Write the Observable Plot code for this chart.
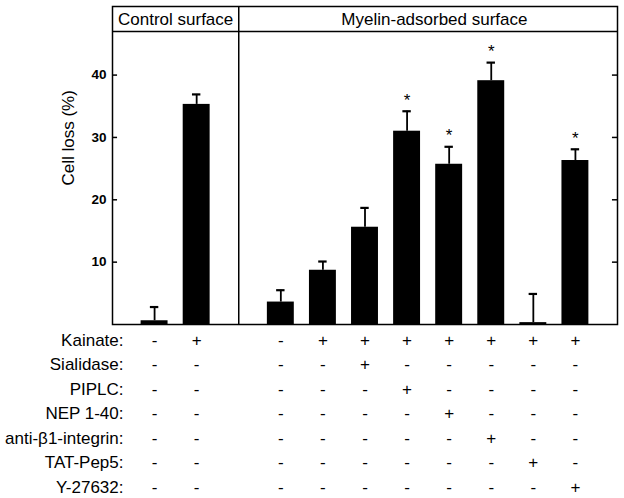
<!DOCTYPE html>
<html><head><meta charset="utf-8">
<script src="https://cdn.jsdelivr.net/npm/d3@7"></script>
<script src="https://cdn.jsdelivr.net/npm/@observablehq/plot@0.6"></script>
<style>body{margin:0;background:#fff;}</style>
</head><body><div id="chart"></div>
<script>
// ---- data ----
const panels = ["Control surface", "Myelin-adsorbed surface"];
const panelCenters = [1.5, 7.65];
const positions = [1, 2, 4, 5, 6, 7, 8, 9, 10, 11];
const values = [0.6, 35.3, 3.6, 8.7, 15.6, 31.0, 25.7, 39.1, 0.3, 26.3];
const errors = [2.2, 1.6, 1.9, 1.4, 3.1, 3.2, 2.8, 2.9, 4.6, 1.8];
const significant = [false, false, false, false, false, true, true, true, false, true];
const treatments = ["Kainate:", "Sialidase:", "PIPLC:", "NEP 1-40:", "anti-\u03b21-integrin:", "TAT-Pep5:", "Y-27632:"];
const signs = [
  ["-","+","-","+","+","+","+","+","+","+"],
  ["-","-","-","-","+","-","-","-","-","-"],
  ["-","-","-","-","-","+","-","-","-","-"],
  ["-","-","-","-","-","-","+","-","-","-"],
  ["-","-","-","-","-","-","-","+","-","-"],
  ["-","-","-","-","-","-","-","-","+","-"],
  ["-","-","-","-","-","-","-","-","-","+"]
];
const yTicks = [10, 20, 30, 40];
const xDomain = [0, 12];
const yDomain = [0, 51];
const headerBoundary = 47;
const panelDivider = 3;

// ---- build ----
const bars = positions.map((p, i) => ({pos: p, value: values[i], err: errors[i], sig: significant[i]}));
const halfBar = 0.32, halfCap = 0.1, tickLen = 0.12;
const font = "Liberation Sans, Arial, Helvetica, sans-serif";

const rowMarks = [];
treatments.forEach((t, r) => {
  const dy = 16 + r * 24.5;
  rowMarks.push(Plot.text([t], {x: xDomain[0], y: 0, text: d => d, textAnchor: "end", dx: 11, dy, lineAnchor: "middle", fontSize: 17, fill: "black"}));
  rowMarks.push(Plot.text(bars, {x: "pos", y: 0, text: (d, i) => signs[r][i], dy, lineAnchor: "middle", fontSize: 17, fill: "black"}));
});

const chart = Plot.plot({
  width: 624,
  height: 498,
  marginLeft: 112,
  marginRight: 7,
  marginTop: 6,
  marginBottom: 174,
  x: {domain: xDomain, axis: null},
  y: {domain: yDomain, axis: null},
  style: {fontFamily: font, background: "white", color: "black", overflow: "visible"},
  marks: [
    Plot.rectY(bars, {x1: d => d.pos - halfBar, x2: d => d.pos + halfBar, y1: 0, y2: "value", fill: "black"}),
    Plot.ruleX(bars, {x: "pos", y1: "value", y2: d => d.value + d.err, stroke: "black", strokeWidth: 1.8}),
    Plot.ruleY(bars, {y: d => d.value + d.err, x1: d => d.pos - halfCap, x2: d => d.pos + halfCap, stroke: "black", strokeWidth: 2.2}),
    Plot.text(bars.filter(d => d.sig), {x: "pos", y: d => d.value + d.err, text: () => "*", lineAnchor: "middle", dy: -11, fontSize: 17, fill: "black"}),
    Plot.ruleY(yTicks, {y: d => d, x1: xDomain[0], x2: xDomain[0] + tickLen, stroke: "black", strokeWidth: 1.5}),
    Plot.ruleY(yTicks, {y: d => d, x1: xDomain[1] - tickLen, x2: xDomain[1], stroke: "black", strokeWidth: 1.5}),
    Plot.text(yTicks, {x: xDomain[0], y: d => d, text: d => String(d), textAnchor: "end", dx: -6, fontSize: 13.5, fontWeight: "bold", fill: "black"}),
    Plot.text(["Cell loss (%)"], {frameAnchor: "left", text: d => d, rotate: -90, dx: -44, dy: 20, fontSize: 17, fill: "black"}),
    Plot.ruleY([headerBoundary], {stroke: "black", strokeWidth: 1.5}),
    Plot.ruleX([panelDivider], {stroke: "black", strokeWidth: 1.5}),
    Plot.text(panels, {x: (d, i) => panelCenters[i], y: (yDomain[1] + headerBoundary) / 2, text: d => d, dy: 1, fontSize: 17, fill: "black"}),
    Plot.frame({stroke: "black", strokeWidth: 1.5}),
    ...rowMarks
  ]
});
document.getElementById("chart").append(chart);
</script>
</body></html>
